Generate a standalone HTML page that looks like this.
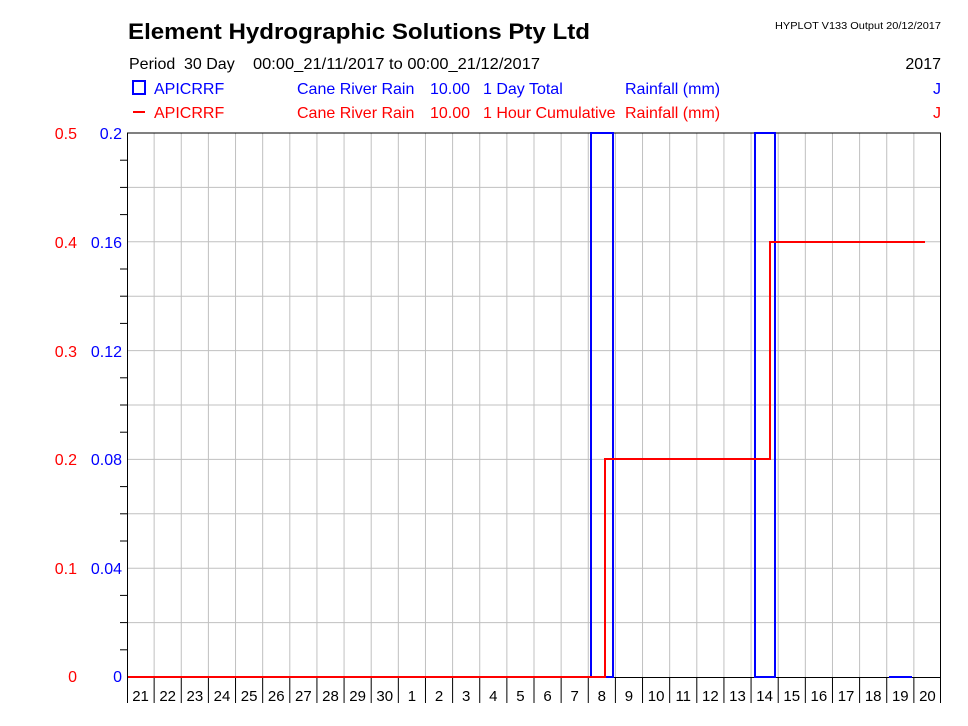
<!DOCTYPE html>
<html><head><style>body{margin:0;background:#fff}svg{display:block}text{font-family:"Liberation Sans",sans-serif}</style></head><body>
<svg id="svg" width="968" height="726" xmlns="http://www.w3.org/2000/svg">
<rect width="968" height="726" fill="#fff"/>
<text x="128" y="39" font-size="22" font-weight="bold" textLength="462" lengthAdjust="spacingAndGlyphs">Element Hydrographic Solutions Pty Ltd</text>
<text x="775" y="29" font-size="10" textLength="166" lengthAdjust="spacingAndGlyphs">HYPLOT V133  Output 20/12/2017</text>
<text x="129" y="69" font-size="16">Period</text>
<text x="184" y="69" font-size="16">30 Day</text>
<text x="253" y="69" font-size="16" textLength="287" lengthAdjust="spacingAndGlyphs">00:00_21/11/2017 to 00:00_21/12/2017</text>
<text x="941" y="69" font-size="16" text-anchor="end">2017</text>
<g fill="#0000ff" font-size="16">
<rect x="133" y="81" width="12" height="13" fill="none" stroke="#00f" stroke-width="2"/>
<text x="154" y="94">APICRRF</text><text x="297" y="94">Cane River Rain</text><text x="430" y="94">10.00</text><text x="483" y="94">1 Day Total</text><text x="625" y="94">Rainfall (mm)</text><text x="941" y="94" text-anchor="end">J</text></g>
<g fill="#ff0000" font-size="16">
<rect x="133" y="111" width="12" height="2"/>
<text x="154" y="118">APICRRF</text><text x="297" y="118">Cane River Rain</text><text x="430" y="118">10.00</text><text x="483" y="118">1 Hour Cumulative</text><text x="625" y="118">Rainfall (mm)</text><text x="941" y="118" text-anchor="end">J</text></g>
<g stroke="#c0c0c0" stroke-width="1" id="grid"></g>
<g id="xl"></g>
<line x1="127" y1="133" x2="941" y2="133" stroke="#000"/>
<line x1="127.5" y1="133" x2="127.5" y2="703" stroke="#000"/>
<line x1="940.5" y1="133" x2="940.5" y2="703" stroke="#000"/>
<line x1="127" y1="677.5" x2="941" y2="677.5" stroke="#000"/>
<g font-size="16" text-anchor="end">
<g fill="#f00"><text x="77" y="139">0.5</text><text x="77" y="248">0.4</text><text x="77" y="357">0.3</text><text x="77" y="465">0.2</text><text x="77" y="574">0.1</text><text x="77" y="682">0</text></g>
<g fill="#00f"><text x="122" y="139">0.2</text><text x="122" y="248">0.16</text><text x="122" y="357">0.12</text><text x="122" y="465">0.08</text><text x="122" y="574">0.04</text><text x="122" y="682">0</text></g>
</g>
<g fill="none" stroke="#00f" stroke-width="2">
<rect x="591" y="133" width="22" height="544"/>
<rect x="755" y="133" width="20" height="544"/>
<line x1="889" y1="677" x2="912" y2="677"/>
</g>
<polyline fill="none" stroke="#f00" stroke-width="2" points="128,677 605,677 605,459 770,459 770,242 925,242"/>
</svg>
<script>
var NS='http://www.w3.org/2000/svg';
function el(p,tag,a,txt){var e=document.createElementNS(NS,tag);for(var k in a)e.setAttribute(k,a[k]);if(txt!==undefined)e.textContent=txt;p.appendChild(e);return e;}
var w=814/30,i,g=document.getElementById('grid'),xl=document.getElementById('xl');
for(i=1;i<30;i++){var x=127+i*w;el(g,'line',{x1:x,y1:133,x2:x,y2:677});}
for(i=1;i<10;i++){var y=133+i*54.4;el(g,'line',{x1:127,y1:y,x2:941,y2:y});}
var d=[21,22,23,24,25,26,27,28,29,30,1,2,3,4,5,6,7,8,9,10,11,12,13,14,15,16,17,18,19,20];
for(i=0;i<30;i++){el(xl,'text',{x:127+(i+0.5)*w,y:701,'font-size':15,'text-anchor':'middle'},String(d[i]));
if(i>0)el(xl,'line',{x1:127+i*w,y1:677,x2:127+i*w,y2:703,stroke:'#000'});}
for(i=0;i<=20;i++){if(i%4==0)continue;var y=133+i*27.2;el(xl,'line',{x1:120,y1:y,x2:127,y2:y,stroke:'#000'});}
</script>
</body></html>
